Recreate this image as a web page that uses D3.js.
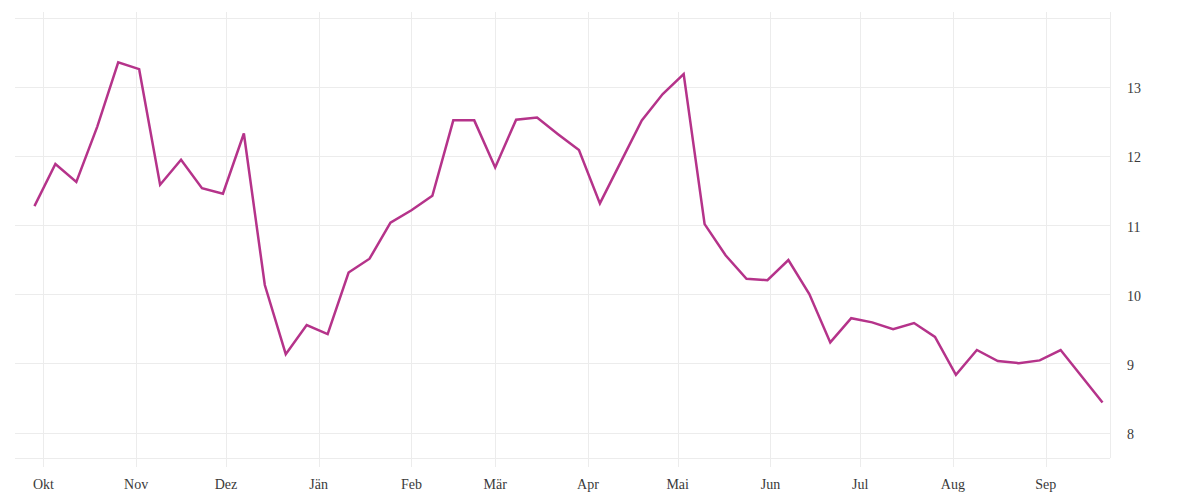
<!DOCTYPE html>
<html><head><meta charset="utf-8">
<script src="https://cdn.jsdelivr.net/npm/d3@7"></script>
<style>
body{margin:0;background:#fff;}
text{font-family:"Liberation Serif","DejaVu Serif",serif;}
</style></head>
<body><svg id="c" width="1200" height="500"></svg>
<script>
const startDate = "2022-09-28";
const values = [11.28,11.89,11.63,12.43,13.36,13.26,11.59,11.95,11.54,11.46,12.33,10.14,9.14,9.56,9.43,10.32,10.52,11.04,11.22,11.43,12.52,12.52,11.84,12.53,12.56,12.32,12.09,11.32,11.92,12.52,12.90,13.19,11.02,10.57,10.23,10.21,10.50,10.01,9.31,9.66,9.60,9.50,9.59,9.39,8.84,9.20,9.04,9.01,9.05,9.20,8.82,8.44];
const monthLabels = ["Okt","Nov","Dez","Jän","Feb","Mär","Apr","Mai","Jun","Jul","Aug","Sep"];
const yTicks = [8,9,10,11,12,13];

const svg = d3.select("#c");
const parse = d3.utcParse("%Y-%m-%d");
const d0 = parse(startDate);
const data = values.map((v,i)=>({date:d3.utcDay.offset(d0,7*i), v}));

const x = d3.scaleUtc()
  .domain([d3.utcHour.offset(parse("2022-09-21"),12), d3.utcHour.offset(parse("2023-09-22"),12)])
  .range([15,1110]);
const y = d3.scaleLinear().domain([8 - 25/69.2, 14]).range([458,18]);

const monthTicks = d3.utcMonth.range(parse("2022-10-01"), parse("2023-09-02"));
const grid = "#ececec";

svg.append("g").selectAll("line").data(monthTicks).join("line")
  .attr("x1",d=>Math.round(x(d))+0.5).attr("x2",d=>Math.round(x(d))+0.5).attr("y1",12).attr("y2",467)
  .attr("stroke",grid).attr("stroke-width",1);
svg.append("g").selectAll("line").data(yTicks.concat([14])).join("line")
  .attr("x1",15).attr("x2",1110).attr("y1",d=>y(d)).attr("y2",d=>y(d))
  .attr("stroke",grid).attr("shape-rendering","crispEdges");
svg.append("line").attr("x1",15).attr("x2",1110).attr("y1",458).attr("y2",458)
  .attr("stroke",grid).attr("shape-rendering","crispEdges");
svg.append("line").attr("x1",1110).attr("x2",1110).attr("y1",12).attr("y2",458)
  .attr("stroke",grid).attr("shape-rendering","crispEdges");

svg.append("g").selectAll("text").data(monthTicks).join("text")
  .attr("x",d=>x(d)).attr("y",489).attr("text-anchor","middle")
  .attr("font-size",14).attr("fill","#3a3a3a")
  .text((d,i)=>monthLabels[i]);
svg.append("g").selectAll("text").data(yTicks).join("text")
  .attr("x",1127).attr("y",d=>y(d)+6).attr("text-anchor","start")
  .attr("font-size",14).attr("fill","#3a3a3a")
  .text(d=>d);

svg.append("path").datum(data)
  .attr("fill","none").attr("stroke","#b5338a").attr("stroke-width",2.5)
  .attr("stroke-linejoin","miter")
  .attr("d", d3.line().x(d=>x(d.date)).y(d=>y(d.v)));
</script></body></html>
